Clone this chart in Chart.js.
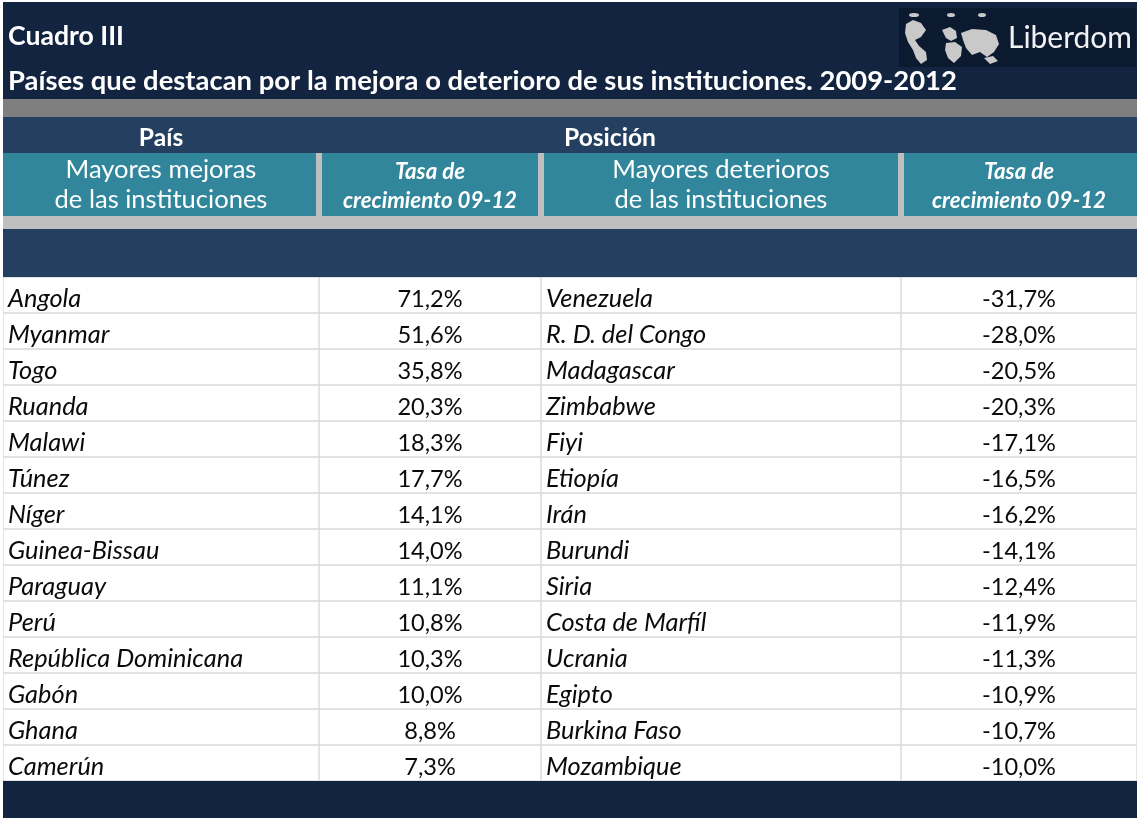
<!DOCTYPE html>
<html><head><meta charset="utf-8">
<script src="https://cdn.jsdelivr.net/npm/chart.js@4.4.1/dist/chart.umd.min.js"></script>
<style>html,body{margin:0;padding:0;background:#fff;overflow:hidden}canvas{display:block}</style>
</head><body>
<canvas id="c" width="1139" height="818"></canvas>
<script>
// ---------- data ----------
const improveCountries = ['Angola','Myanmar','Togo','Ruanda','Malawi','Túnez','Níger','Guinea-Bissau','Paraguay','Perú','República Dominicana','Gabón','Ghana','Camerún'];
const improveRates = [71.2,51.6,35.8,20.3,18.3,17.7,14.1,14.0,11.1,10.8,10.3,10.0,8.8,7.3];
const declineCountries = ['Venezuela','R. D. del Congo','Madagascar','Zimbabwe','Fiyi','Etiopía','Irán','Burundi','Siria','Costa de Marfíl','Ucrania','Egipto','Burkina Faso','Mozambique'];
const declineRates = [-31.7,-28.0,-20.5,-20.3,-17.1,-16.5,-16.2,-14.1,-12.4,-11.9,-11.3,-10.9,-10.7,-10.0];
const titleText = 'Cuadro III';
const subtitleText = 'Países que destacan por la mejora o deterioro de sus instituciones. 2009-2012';
const groupHeaders = ['País', 'Posición'];
const columnHeaders = [['Mayores mejoras','de las instituciones'], ['Tasa de','crecimiento 09-12'], ['Mayores deterioros','de las instituciones'], ['Tasa de','crecimiento 09-12']];
const brandText = 'Liberdom';

// ---------- layout / style ----------
const W = 1139, H = 818;
const TL = 3, TR = 1137, BODY_TOP = 277, BODY_BOTTOM = 781;
const colEdges = [0, 316, 538, 898, 1134];
const C = {navy:'#12243f', logo:'#0c1a30', gray:'#7f7f7f', blue:'#243f60', teal:'#31869b', light:'#bfbfbf', grid:'#d9d9d9', text:'#0a0a0a'};
const FONT = 'Lato, "Open Sans", sans-serif';
const fmt = v => v.toFixed(1).replace('.', ',') + '%';

const columns = [
  {labels: improveCountries, align: 'left', italic: true},
  {labels: improveRates.map(fmt), align: 'center', italic: false},
  {labels: declineCountries, align: 'left', italic: true},
  {labels: declineRates.map(fmt), align: 'center', italic: false}
];

function fitSize(ctx, style, text, target) {
  ctx.font = style + ' 100px ' + FONT;
  return 100 * target / ctx.measureText(text).width;
}
function drawText(ctx, text, x, y, style, size, color, align) {
  ctx.font = style + ' ' + size.toFixed(2) + 'px ' + FONT;
  ctx.fillStyle = color;
  ctx.textAlign = align || 'left';
  ctx.textBaseline = 'alphabetic';
  ctx.fillText(text, x, y);
}

const headerPlugin = {
  id: 'header',
  beforeDatasetsDraw(chart) {
    const ctx = chart.ctx, xs = chart.scales.x;
    const px = v => xs.getPixelForValue(v);
    ctx.save();
    ctx.fillStyle = '#fff'; ctx.fillRect(0, 0, W, H);
    const band = (y0, y1, col) => { ctx.fillStyle = col; ctx.fillRect(TL, y0, TR - TL, y1 - y0); };
    band(2, 99, C.navy);
    band(99, 117, C.gray);
    band(117, 153, C.blue);
    band(153, 216, C.light);
    for (let c = 0; c < 4; c++) {
      const l = px(colEdges[c]) + (c > 0 ? 3 : 0);
      const r = px(colEdges[c + 1]) - (c < 3 ? 3 : 0);
      ctx.fillStyle = C.teal; ctx.fillRect(l, 153, r - l, 63);
    }
    band(216, 229, C.light);
    band(229, BODY_TOP, C.blue);
    band(BODY_BOTTOM, H, C.navy);

    // titles
    drawText(ctx, titleText, 8, 45, 'bold', fitSize(ctx, 'bold', titleText, 116), '#fff');
    drawText(ctx, subtitleText, 8, 90, 'bold', fitSize(ctx, 'bold', subtitleText, 949), '#fff');

    // logo
    ctx.fillStyle = C.logo; ctx.fillRect(899, 8, 237, 59);
    ctx.fillStyle = '#c9c9c9';
    const poly = pts => { ctx.beginPath(); ctx.moveTo(pts[0], pts[1]); for (let i = 2; i < pts.length; i += 2) ctx.lineTo(pts[i], pts[i + 1]); ctx.closePath(); ctx.fill(); };
    poly([906,24, 913,20, 921,23, 926,30, 921,37, 915,40, 919,46, 926,52, 927,60, 921,64, 916,58, 913,50, 908,42, 905,33]);
    poly([942,30, 950,27, 956,31, 957,38, 951,41, 946,38]);
    poly([946,43, 955,42, 962,47, 961,56, 954,63, 948,58, 945,50]);
    poly([961,33, 972,29, 986,30, 996,35, 999,44, 994,52, 987,57, 980,52, 972,55, 966,48, 963,40]);
    poly([984,58, 993,56, 998,61, 990,64]);
    ctx.beginPath(); ctx.ellipse(914, 15, 5, 2, 0, 0, Math.PI * 2); ctx.fill();
    ctx.beginPath(); ctx.ellipse(951, 15, 4, 2, 0, 0, Math.PI * 2); ctx.fill();
    ctx.beginPath(); ctx.ellipse(982, 15, 4, 2, 0, 0, Math.PI * 2); ctx.fill();
    drawText(ctx, brandText, 1008, 48, 'normal', fitSize(ctx, 'normal', brandText, 124), '#f2f2f2');

    // group headers
    const gs = fitSize(ctx, 'bold', groupHeaders[1], 92);
    drawText(ctx, groupHeaders[0], (px(colEdges[0]) + px(colEdges[1])) / 2, 146, 'bold', gs, '#fff', 'center');
    drawText(ctx, groupHeaders[1], (px(colEdges[1]) + px(colEdges[3])) / 2, 146, 'bold', gs, '#fff', 'center');

    // column headers
    const regSize = fitSize(ctx, 'normal', columnHeaders[0][1], 213);
    const rateSize = fitSize(ctx, 'bold italic', columnHeaders[1][1], 174);
    columnHeaders.forEach((lines, c) => {
      const cx = (px(colEdges[c]) + px(colEdges[c + 1])) / 2;
      const isRate = c % 2 === 1;
      const style = isRate ? 'bold italic' : 'normal';
      const size = isRate ? rateSize : regSize;
      drawText(ctx, lines[0], cx, isRate ? 179 : 178, style, size, '#fff', 'center');
      drawText(ctx, lines[1], cx, 208, style, size, '#fff', 'center');
    });
    ctx.restore();
  }
};

const cellTextPlugin = {
  id: 'cellText',
  afterDatasetsDraw(chart) {
    const ctx = chart.ctx;
    ctx.save();
    const numSize = fitSize(ctx, 'normal', '-10,0%', 74);
    const nameSize = fitSize(ctx, 'italic', 'Venezuela', 107);
    columns.forEach((col, c) => {
      const meta = chart.getDatasetMeta(c);
      meta.data.forEach((el, i) => {
        const l = Math.min(el.x, el.base), r = Math.max(el.x, el.base);
        if (col.align === 'left') drawText(ctx, col.labels[i], l + 5, el.y + 12, 'italic', nameSize, C.text, 'left');
        else drawText(ctx, col.labels[i], (l + r) / 2, el.y + 12, 'normal', numSize, C.text, 'center');
      });
    });
    ctx.restore();
  }
};

new Chart(document.getElementById('c'), {
  type: 'bar',
  data: {
    labels: improveCountries,
    datasets: columns.map((col, c) => ({
      data: improveCountries.map(() => [colEdges[c], colEdges[c + 1]]),
      backgroundColor: '#ffffff',
      borderColor: C.grid,
      borderWidth: 1,
      borderSkipped: false,
      barPercentage: 1,
      categoryPercentage: 1,
      grouped: false
    }))
  },
  options: {
    indexAxis: 'y',
    responsive: false,
    animation: false,
    devicePixelRatio: 1,
    layout: {padding: {left: TL, right: W - TR, top: BODY_TOP, bottom: H - BODY_BOTTOM}},
    scales: {
      x: {type: 'linear', min: colEdges[0], max: colEdges[colEdges.length - 1], display: false},
      y: {type: 'category', display: false, offset: true}
    },
    plugins: {legend: {display: false}, tooltip: {enabled: false}, title: {display: false}}
  },
  plugins: [headerPlugin, cellTextPlugin]
});
</script>
</body></html>
